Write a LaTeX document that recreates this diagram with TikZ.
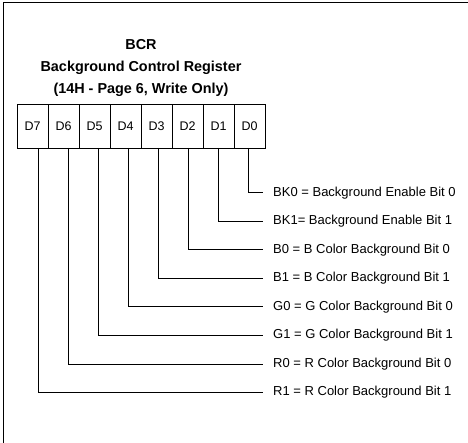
\documentclass[tikz,border=0pt]{standalone}
\usepackage{fontspec}
\setmainfont{Liberation Sans}
\usetikzlibrary{positioning}
\tikzset{
  regcell/.style={draw, line width=0.9pt, minimum width=31pt, minimum height=44pt,
    inner sep=0pt, outer sep=0pt, font=\fontsize{12.5}{15}\selectfont},
  bitlabel/.style={anchor=west, inner sep=0pt, font=\fontsize{13}{15}\selectfont},
  wire/.style={line width=1pt},
}
\begin{document}
\begin{tikzpicture}[x=1pt, y=-1pt]
  \useasboundingbox (0,0) rectangle (468,443);
  % frame (only top and left edges show)
  \draw[line width=1.3pt] (468,2.5) -- (3.5,2.5) -- (3.5,443);

  % register cells D7 ... D0
  \foreach \i in {7,...,0}
    \node[regcell] (d\i) at ({32.5+31*(7-\i)}, 126) {D\i};

  % title
  \node[font=\fontsize{14.4}{22}\selectfont\bfseries, align=center] (title) at (141,68)
    {BCR\\Background Control Register\\(14H - Page 6, Write Only)};

  % bit descriptions
  \foreach \i/\txt in {0/{BK0 = Background Enable Bit 0},
                       1/{BK1= Background Enable Bit 1},
                       2/{B0 = B Color Background Bit 0},
                       3/{B1 = B Color Background Bit 1},
                       4/{G0 = G Color Background Bit 0},
                       5/{G1 = G Color Background Bit 1},
                       6/{R0 = R Color Background Bit 0},
                       7/{R1 = R Color Background Bit 1}} {
    \node[bitlabel] (b\i) at (273, {193+28.5*\i}) {\txt};
    \draw[wire] ([xshift={-1.5+1.1*\i}]d\i.south) |- ([xshift=-10pt]b\i.west);
  }
\end{tikzpicture}
\end{document}
